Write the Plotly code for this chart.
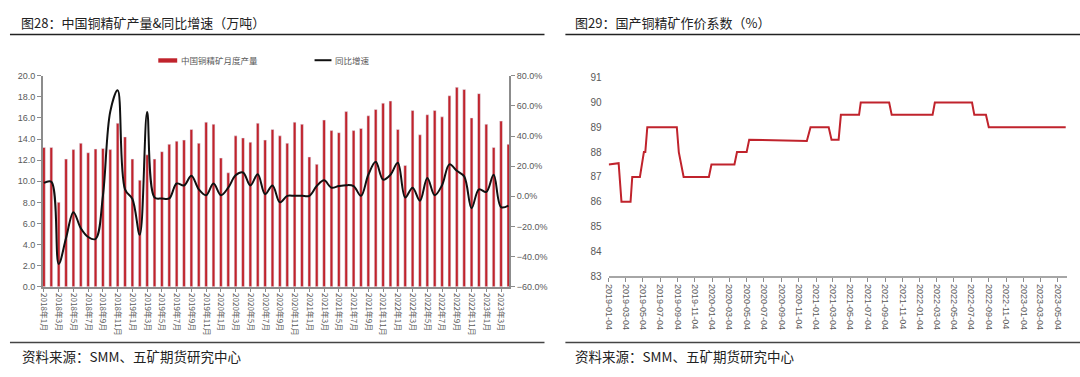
import plotly.graph_objects as go

# ---------------- data: left chart ----------------
months = [f"{y}年{m}月" for y in range(2018, 2024) for m in range(1, 13)][:64]
production = [13.2, 13.2, 8.0, 12.1, 13.0, 13.6, 12.7, 13.05, 13.1, 13.0, 15.5, 14.2,
              12.1, 10.1, 12.5, 12.1, 12.8, 13.5, 13.8, 13.9, 14.9, 13.6, 15.6, 15.4,
              12.2, 10.8, 14.3, 14.1, 13.7, 15.5, 13.9, 14.9, 14.3, 13.6, 15.6, 15.4,
              12.3, 11.6, 15.8, 14.8, 14.6, 16.6, 14.8, 15.0, 16.2, 16.8, 17.4, 17.6,
              14.9, 11.5, 16.7, 14.4, 16.3, 16.7, 16.1, 18.1, 18.9, 18.7, 16.0, 18.3,
              15.4, 13.2, 15.7, 13.5]
yoy = [8.9, 9.6, -44.9, -27.7, -10.5, -21.2, -27.0, -28.3, 0.3, 56.3, 70.3, 4.6,
       -1.8, -25.5, 55.9, -0.8, -1.4, -1.4, 8.5, 7.2, 13.7, 4.6, 0.7, 8.5,
       0.7, 5.7, 13.9, 15.8, 7.2, 14.7, 1.4, 7.2, -4.0, 0.3, 0.3, 0.3,
       0.3, 6.8, 10.6, 5.7, 6.8, 7.4, 6.8, 0.3, 14.3, 22.9, 11.1, 14.3,
       22.3, -0.8, 5.7, -2.9, 12.2, 0.7, 7.4, 21.2, 16.9, 13.2, -7.9, 4.6,
       2.9, 14.3, -7.2, -6.2]
left_tick_idx = list(range(0, 64, 2))
left_tick_text = [months[i] for i in left_tick_idx]

# ---------------- data: right chart ----------------
coef_dates = ["2019-01-04", "2019-02-08", "2019-02-18", "2019-03-22", "2019-03-28", "2019-04-24",
              "2019-05-08", "2019-05-13", "2019-05-20", "2019-09-01", "2019-09-08", "2019-09-25",
              "2019-12-23", "2020-01-01", "2020-03-22", "2020-03-31", "2020-05-04", "2020-05-13",
              "2020-12-02", "2020-12-15", "2021-02-17", "2021-02-27", "2021-03-24", "2021-04-01",
              "2021-06-04", "2021-06-10", "2021-09-18", "2021-09-27", "2022-02-18", "2022-02-26",
              "2022-07-07", "2022-07-15", "2022-08-25", "2022-09-04", "2023-06-02"]
coef_values = [87.5, 87.55, 86, 86, 87, 87,
               88, 88, 89, 89, 88, 87,
               87, 87.5, 87.5, 88, 88, 88.5,
               88.45, 89, 89, 88.5, 88.5, 89.5,
               89.5, 90, 90, 89.5, 89.5, 90,
               90, 89.5, 89.5, 89, 89]

RED = "#C0232C"
FONT = "Liberation Sans, Noto Sans CJK SC, sans-serif"
CJK = "Noto Sans CJK SC, sans-serif"
TICKC = "#595959"
W, H = 1080, 377


def px(x):
    return x / W


def py(y):
    return 1 - y / H


fig = go.Figure()
fig.add_trace(go.Bar(x=list(range(64)), y=production, marker_color=RED, width=0.38,
                     name="中国铜精矿月度产量", xaxis="x", yaxis="y", showlegend=False))
fig.add_trace(go.Scatter(x=list(range(64)), y=yoy, mode="lines",
                         line=dict(color="#111111", width=2, shape="spline", smoothing=1.0),
                         name="同比增速", xaxis="x", yaxis="y3", showlegend=False))
fig.add_trace(go.Scatter(x=coef_dates, y=coef_values, mode="lines",
                         line=dict(color=RED, width=2),
                         name="国产铜精矿作价系数", xaxis="x2", yaxis="y2", showlegend=False))

fig.update_layout(
    width=W, height=H, margin=dict(l=0, r=0, t=0, b=0),
    paper_bgcolor="white", plot_bgcolor="white",
    font=dict(family=FONT, color=TICKC),
    xaxis=dict(domain=[px(38), px(506.5)], range=[-0.15, 63.1],
               tickvals=left_tick_idx, ticktext=left_tick_text, tickangle=90,
               tickfont=dict(size=8, family=CJK, color=TICKC),
               showline=True, linecolor="#8c8c8c", linewidth=1.5, ticks="outside",
               ticklen=3, tickcolor="#8c8c8c", showgrid=False, zeroline=False,
               anchor="y"),
    yaxis=dict(domain=[py(290), py(72)], range=[0, 20], dtick=2, tickformat=".1f",
               showline=True, linecolor="#8c8c8c", linewidth=1.5, ticks="outside",
               ticklen=4, tickcolor="#8c8c8c", showgrid=False, zeroline=False,
               tickfont=dict(size=9, color=TICKC), anchor="x"),
    yaxis3=dict(overlaying="y", side="right", range=[-60, 80], dtick=20,
                tickformat=".1f", ticksuffix="%", showline=True, linecolor="#8c8c8c",
                linewidth=1.5, ticks="outside", ticklen=4, tickcolor="#8c8c8c",
                showgrid=False, zeroline=False, tickfont=dict(size=9, color=TICKC),
                anchor="x"),
    xaxis2=dict(domain=[px(606.5), px(1066.5)], range=["2019-01-04", "2023-06-05"],
                type="date", tick0="2019-01-04", dtick="M2", tickformat="%Y-%m-%d",
                tickangle=90, tickfont=dict(size=9, color=TICKC),
                showline=True, linecolor="#a6a6a6", linewidth=2, ticks="outside",
                ticklen=4, tickcolor="#8c8c8c", showgrid=False, zeroline=False,
                anchor="y2"),
    yaxis2=dict(domain=[py(279), py(74)], range=[83, 91], dtick=1,
                showline=False, showgrid=False, zeroline=False, ticks="",
                ticklabelstandoff=6, tickfont=dict(size=10, color=TICKC), anchor="x2"),
)

shapes = []
# title underlines and bottom separator lines
for x0, x1 in [(5, 542), (563, 1080)]:
    shapes.append(dict(type="line", xref="paper", yref="paper", x0=px(x0), x1=px(x1),
                       y0=py(29.5), y1=py(29.5), line=dict(color="#222222", width=1.5)))
    shapes.append(dict(type="line", xref="paper", yref="paper", x0=px(x0), x1=px(x1),
                       y0=py(347.5), y1=py(347.5), line=dict(color="#444444", width=1.5)))
# custom legend marks
shapes.append(dict(type="rect", xref="paper", yref="paper", x0=px(154), x1=px(173),
                   y0=py(58.5), y1=py(54), fillcolor=RED, line=dict(width=0)))
shapes.append(dict(type="line", xref="paper", yref="paper", x0=px(311), x1=px(328),
                   y0=py(56), y1=py(56), line=dict(color="#111111", width=2)))

annotations = [
    dict(text="图28：中国铜精矿产量&同比增速（万吨）", x=px(14), y=py(17), xanchor="left",
         yanchor="middle", font=dict(size=13, family=CJK, color="#222222")),
    dict(text="图29：国产铜精矿作价系数（%）", x=px(571), y=py(17), xanchor="left",
         yanchor="middle", font=dict(size=13, family=CJK, color="#222222")),
    dict(text="资料来源：SMM、五矿期货研究中心", x=px(15), y=py(362), xanchor="left",
         yanchor="middle", font=dict(size=13.5, family=CJK, color="#222222")),
    dict(text="资料来源：SMM、五矿期货研究中心", x=px(571), y=py(362), xanchor="left",
         yanchor="middle", font=dict(size=13.5, family=CJK, color="#222222")),
    dict(text="中国铜精矿月度产量", x=px(175), y=py(56), xanchor="left", yanchor="middle",
         font=dict(size=8.5, family=CJK, color=TICKC)),
    dict(text="同比增速", x=px(330), y=py(56), xanchor="left", yanchor="middle",
         font=dict(size=8.5, family=CJK, color=TICKC)),
]
for a in annotations:
    a.update(xref="paper", yref="paper", showarrow=False)

fig.update_layout(shapes=shapes, annotations=annotations)
fig.write_html("out.html", config={"displayModeBar": False},
               post_script="document.body.style.margin='0';document.body.style.overflow='hidden';")
